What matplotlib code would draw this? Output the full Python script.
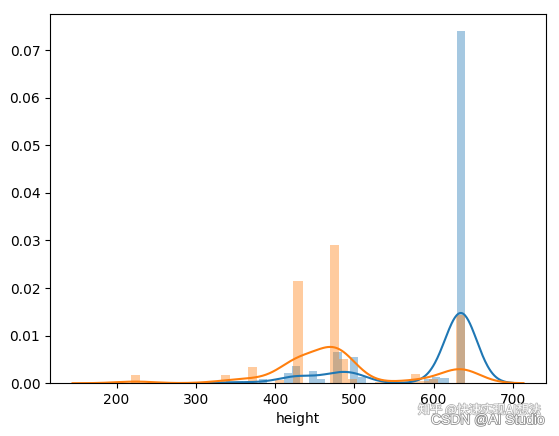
import numpy as np
import matplotlib.pyplot as plt
import matplotlib.patheffects as pe

# blue series: histogram bins (left edge, density)
blue_width = 10.4
blue_left = [338.4, 348.8, 380.0, 411.2, 421.6, 442.4, 452.8, 473.6, 494.4,
             504.8, 588.0, 598.4, 608.8, 629.6]
blue_dens = [0.0004, 0.0004, 0.0008, 0.0022, 0.0036, 0.0026, 0.0008, 0.0066,
             0.0056, 0.0014, 0.0008, 0.0012, 0.0010, 0.0740]
blue_bw = 20

# orange series
orange_width = 11.405
orange_left = [218.0, 332.05, 366.3, 400.5, 423.3, 468.9, 480.3, 491.7,
               525.9, 537.3, 571.6, 583.0, 594.4, 628.6]
orange_dens = [0.0017, 0.0017, 0.0035, 0.0007, 0.0214, 0.0291, 0.0051, 0.0008,
               0.0003, 0.0003, 0.0019, 0.0005, 0.0008, 0.0143]
orange_bw = 24.5


def kde_curve(left, dens, width, bw):
    # gaussian kde from the binned masses, cut at 3 bandwidths like seaborn
    left = np.array(left)
    c = left + width / 2
    w = np.array(dens) * width
    w = w / w.sum()
    x = np.linspace(left.min() - 3 * bw, left.max() + width + 3 * bw, 400)
    y = (w[None, :] * np.exp(-0.5 * ((x[:, None] - c[None, :]) / bw) ** 2)).sum(1)
    y /= bw * np.sqrt(2 * np.pi)
    return x, y


fig = plt.figure(figsize=(5.59, 4.36), dpi=100)
ax = fig.add_axes([50 / 559, 52.8 / 436, 496 / 559, 369.6 / 436])

for left, dens, width, bw, col in [
        (blue_left, blue_dens, blue_width, blue_bw, 'C0'),
        (orange_left, orange_dens, orange_width, orange_bw, 'C1')]:
    ax.bar(left, dens, width=width, align='edge', color=col, alpha=0.4,
           linewidth=0)
    kx, ky = kde_curve(left, dens, width, bw)
    ax.plot(kx, ky, color=col, lw=1.5)

ax.set_xlabel('height')

fx = ['Noto Sans CJK SC', 'DejaVu Sans']
fig.text(418 / 559, 1 - 410 / 436, '知乎 @快速实现AI想法', family=fx, fontsize=8.8,
         color='white', va='center',
         path_effects=[pe.withStroke(linewidth=1.2, foreground='#b8b8b8')])
fig.text(431 / 559, 1 - 420 / 436, 'CSDN @AI Studio',
         family=['Liberation Sans', 'DejaVu Sans'], fontsize=10,
         color='white', va='center',
         path_effects=[pe.withStroke(linewidth=1.2, foreground='#909090')])

fig.savefig('out.png', dpi=100)
